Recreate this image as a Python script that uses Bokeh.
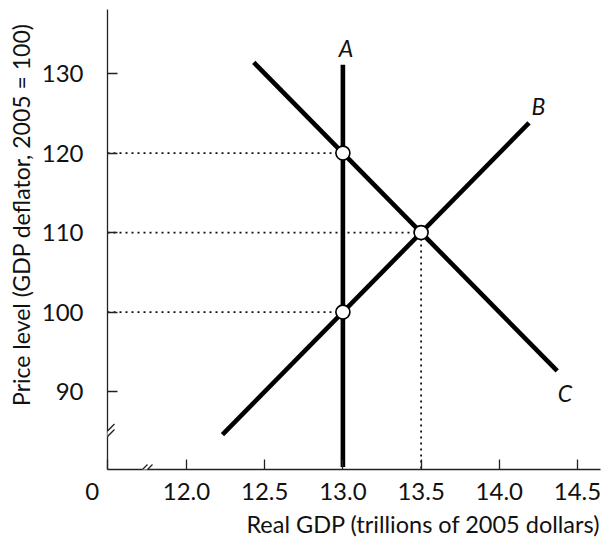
from bokeh.plotting import figure
from bokeh.models import Range1d, FixedTicker, Arrow, Title
from bokeh.core.properties import value
from bokeh.embed import file_html
from bokeh.resources import INLINE

# ---- data ----
x_ticks = [12.0, 12.5, 13.0, 13.5, 14.0, 14.5]
x_tick_labels = ["12.0", "12.5", "13.0", "13.5", "14.0", "14.5"]
y_ticks = [90, 100, 110, 120, 130]

A_x = [13.0, 13.0]
A_y = [80.5, 131.1]
B_x = [12.23, 14.19]
B_y = [84.6, 123.8]
C_x = [12.43, 14.37]
C_y = [131.4, 92.6]

eq_x = [13.0, 13.5, 13.0]
eq_y = [120, 110, 100]

curve_labels = ["A", "B", "C"]
curve_label_x = [13.02, 14.25, 14.42]
curve_label_y = [133.2, 125.9, 89.8]

origin_label = "0"
x_title = "Real GDP (trillions of 2005 dollars)"
y_title = "Price level (GDP deflator, 2005 = 100)"

FONT = "Lato"
INK = "#111111"

x0, x1 = 11.495, 14.647
y0, y1 = 80.2, 138.06

p = figure(width=603, height=538, output_backend="svg", toolbar_location=None,
           x_range=Range1d(x0, x1), y_range=Range1d(y0, y1),
           min_border_left=107, min_border_right=3, min_border_top=9, min_border_bottom=69)
p.outline_line_color = None
p.grid.visible = False
p.background_fill_color = "white"
p.border_fill_color = "white"

for ax in (p.xaxis[0], p.yaxis[0]):
    ax.axis_line_color = "#222222"
    ax.axis_line_width = 1.3
    ax.major_tick_line_color = "#222222"
    ax.major_tick_line_width = 1.3
    ax.major_tick_in = 10
    ax.major_tick_out = 0
    ax.minor_tick_line_color = None
    ax.major_label_text_font = FONT
    ax.major_label_text_font_size = "24px"
    ax.major_label_text_color = INK

p.xaxis.ticker = FixedTicker(ticks=[x0] + x_ticks)
overrides = {t: s for t, s in zip(x_ticks, x_tick_labels)}
overrides[x0] = origin_label + "\u00a0" * 5
p.xaxis.major_label_overrides = overrides
p.yaxis.ticker = FixedTicker(ticks=y_ticks)
p.xaxis.major_label_standoff = 6
p.yaxis.major_label_standoff = 24

# pixel scales (for decorative offsets)
sx = 493 / (x1 - x0)
sy = 460 / (y1 - y0)

# dotted guide lines
p.segment(x0=[x0] * 3, y0=eq_y, x1=eq_x, y1=eq_y, line_color=INK, line_width=1.8, line_dash="2 4")
p.segment(x0=[eq_x[1]], y0=[eq_y[1]], x1=[eq_x[1]], y1=[y0], line_color=INK, line_width=1.8, line_dash="2 4")

# curves
for xs, ys in ((A_x, A_y), (B_x, B_y), (C_x, C_y)):
    p.line(xs, ys, line_color="black", line_width=4.6, line_cap="butt")

# equilibrium points
p.scatter(eq_x, eq_y, size=14, fill_color="white", line_color="black", line_width=1.6)

# curve labels
p.text(curve_label_x, curve_label_y, text=curve_labels, text_font=value(FONT),
       text_font_style="italic", text_font_size="23px", text_color=INK,
       text_align="center", text_baseline="middle")

# axis titles
p.add_layout(Title(text=x_title, align="right", text_font=FONT, text_font_size="23.5px",
                   text_font_style="normal", text_color=INK, standoff=1), "below")
p.add_layout(Title(text=y_title, align="right", offset=14, text_font=FONT, text_font_size="23px",
                   text_font_style="normal", text_color=INK, standoff=8), "left")

# axis break marks
def slash(cx, cy, h):
    p.add_layout(Arrow(end=None, start=None, x_start=cx - h / sx, y_start=cy - h / sy,
                       x_end=cx + h / sx, y_end=cy + h / sy, line_color="#222222", line_width=1.3))

yb_lo = y0 + 33 / sy
yb_hi = y0 + 38.5 / sy
p.add_layout(Arrow(end=None, start=None, x_start=x0, y_start=yb_lo, x_end=x0, y_end=yb_hi,
                   line_color="white", line_width=4))
slash(x0, yb_lo, 7)
slash(x0, yb_hi, 7)

xb_lo = x0 + 35 / sx
xb_hi = x0 + 40 / sx
p.add_layout(Arrow(end=None, start=None, x_start=xb_lo, y_start=y0, x_end=xb_hi, y_end=y0,
                   line_color="white", line_width=4))
slash(xb_lo, y0, 5)
slash(xb_hi, y0, 5)

open("out.html", "w").write(file_html(p, INLINE))
